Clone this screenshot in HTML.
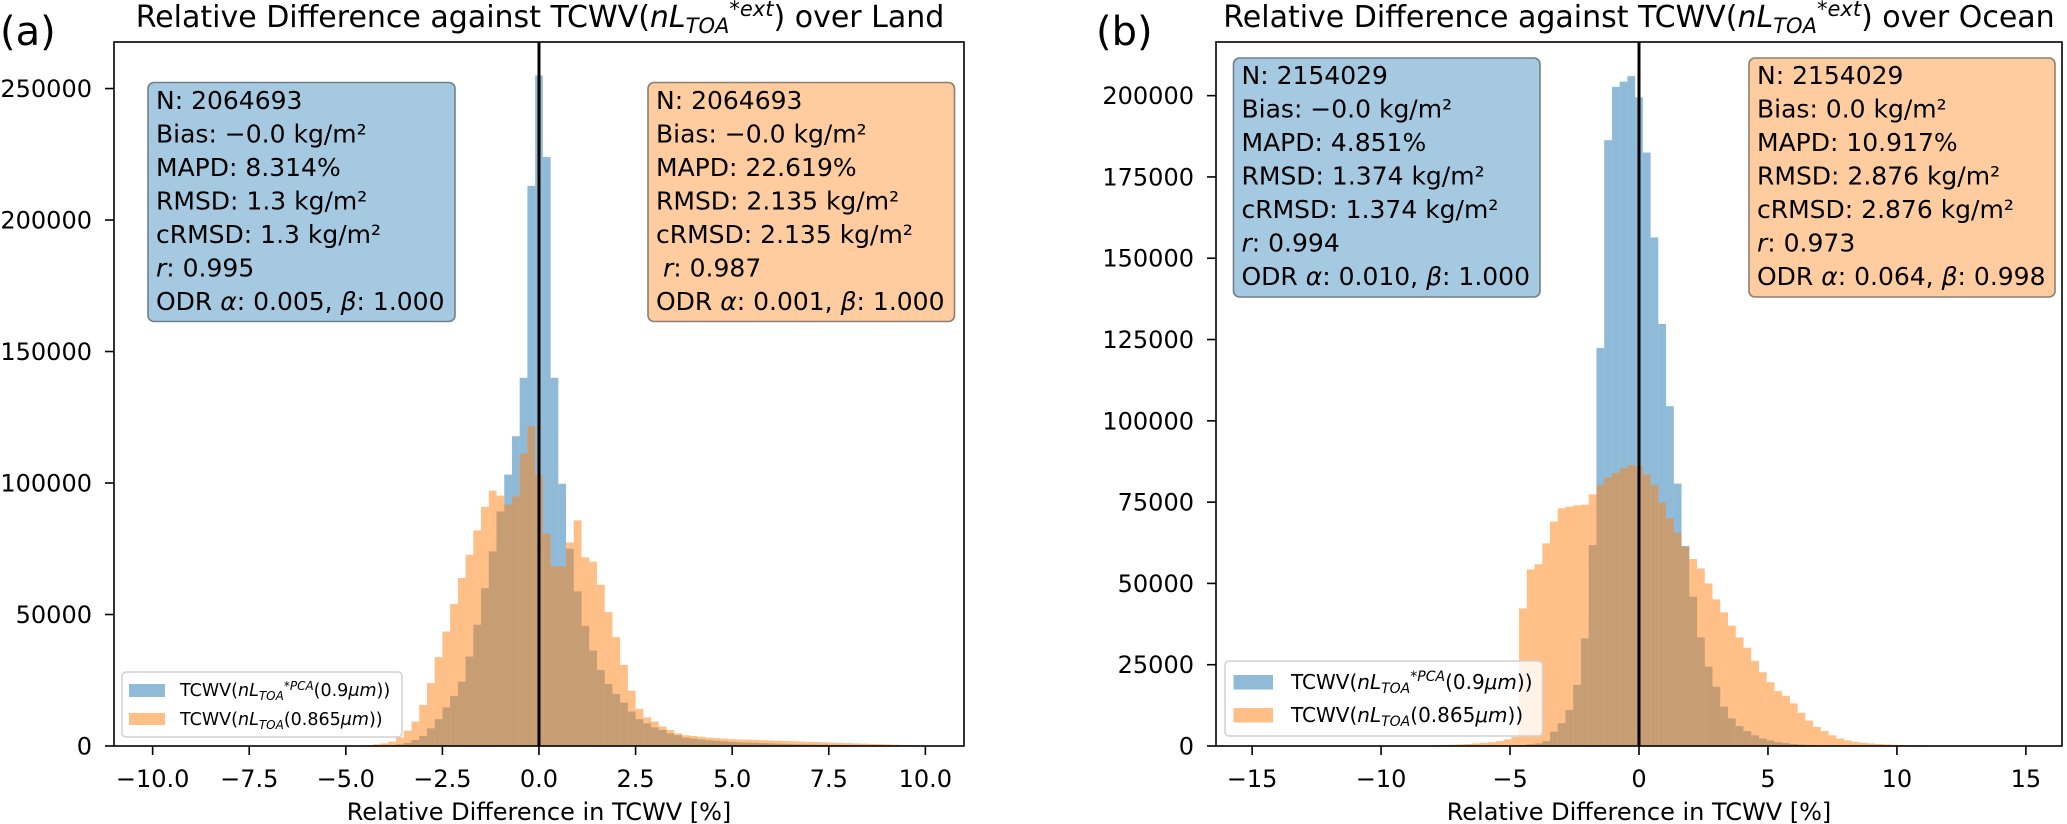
<!DOCTYPE html>
<html><head><meta charset="utf-8"><style>
html,body{margin:0;padding:0;background:#fff;}
svg{display:block;font-family:"DejaVu Sans","Liberation Sans",sans-serif;}
</style></head><body>
<svg id="fig" width="2067" height="824" viewBox="0 0 2067 824" xmlns="http://www.w3.org/2000/svg">
<rect x="0" y="0" width="2067" height="824" fill="#fff"/>
<g id="plots"></g>
</svg>
<script>
// ---- Land (a) data: bin width 0.2, first bin center index -23 ----
const landBinWidth = 0.2;
const landStartIndex = -23;
const landBlue = [0.05,0.1,0.15,0.2,0.3,0.6,1.2,2.3,3.8,6.7,10.2,14.7,19,24.5,34,46.1,60,74,89.2,103.2,117.8,140,213,255,224,140,99.7,75,58.8,45.7,36.3,28.9,23.6,19.8,16.5,13.1,10.2,8.6,7.1,6.1,4.8,4.1,3.2,2.8,2.5,2.2,2.0,1.8,1.6,1.4,1.3,1.2,1.1,1.0,0.9,0.8,0.7,0.6,0.6,0.5,0.5,0.4,0.4,0.3,0.3,0.3,0.2,0.2,0.2,0.2,0.1,0.1,0.1,0.1];
const landOrange = [0.1,0.3,0.6,1.0,1.7,3.3,5.8,9.3,15.6,23.9,33.8,43.5,54,63.9,72.7,82,90.9,97.1,95.2,91.8,94.9,111.2,121.6,103,80.7,68.3,68.3,77.4,85.8,71.7,70.1,61.3,50.9,41.4,30.8,21.1,14.1,10.9,9.3,7.4,6.1,4.8,4.1,3.8,3.5,3.2,3.0,2.8,2.6,2.5,2.4,2.3,2.2,2.1,2.0,1.9,1.8,1.7,1.6,1.5,1.4,1.3,1.2,1.1,1.0,0.9,0.8,0.7,0.6,0.5,0.4,0.3,0.2,0.1];
const landXTicks = [-10,-7.5,-5,-2.5,0,2.5,5,7.5,10];
const landXTickLabels = ["\u221210.0","\u22127.5","\u22125.0","\u22122.5","0.0","2.5","5.0","7.5","10.0"];
const landYTicks = [0,50000,100000,150000,200000,250000];
// ---- Ocean (b) data: bin width 0.3 ----
const oceanBinWidth = 0.3;
const oceanBlueStart = -16;
const oceanBlue = [0.2,0.3,0.5,0.8,1.5,4.4,7,11.1,18.8,33.1,61.8,122.4,186.3,202.7,204.3,206,199.5,182.5,156.4,129.8,104.5,80.7,61.5,45.9,33.4,24.4,18.2,12.1,8.5,6.1,4.6,3.3,2.3,1.7,1.2,0.9,0.6,0.4,0.3,0.2,0.1];
const oceanOrangeStart = -26;
const oceanOrange = [0.2,0.3,0.4,0.5,0.6,0.8,1.0,1.2,1.5,2.0,2.8,42.3,54.3,55.9,62.3,69,73.1,73.6,74,74.2,77.4,80.3,82.6,84,85.4,86.4,86,83.5,80.3,74.9,70,65.6,61.3,57.5,54.6,50,45.1,41.1,37,33.4,30.2,26.2,22.7,19.6,16.9,15.4,13.1,10.2,7.8,5.9,4.6,3.3,2.3,1.7,1.3,1.0,0.8,0.6,0.5,0.4,0.3,0.2,0.2,0.1];
const oceanXTicks = [-15,-10,-5,0,5,10,15];
const oceanXTickLabels = ["\u221215","\u221210","\u22125","0","5","10","15"];
const oceanYTicks = [0,25000,50000,75000,100000,125000,150000,175000,200000];

const NS = "http://www.w3.org/2000/svg";
const root = document.getElementById('plots');
function mk(tag, attrs, parent){ const e=document.createElementNS(NS,tag); for(const k in attrs) e.setAttribute(k,attrs[k]); (parent||root).appendChild(e); return e; }

function drawPanel(cfg){
  const g = mk('g',{});
  
  
  const L=cfg.left, R=cfg.right, T=42, B=746;
  const xs = v => L + (v - cfg.xmin)/(cfg.xmax-cfg.xmin)*(R-L);
  const ys = v => B - v/cfg.ymax*(B-T);
  const series = [
    {vals: cfg.blue, start: cfg.blueStart, color:'#1f77b4', name:'blue'},
    {vals: cfg.orange, start: cfg.orangeStart, color:'#ff7f0e', name:'orange'}
  ];
  series.forEach(s=>{
    const sg = mk('g',{},g);
    
    
    s.vals.forEach((v,i)=>{
      const c = (s.start+i)*cfg.bw;
      const x0 = xs(c-cfg.bw/2), x1 = xs(c+cfg.bw/2);
      const y = ys(v*1000);
      const r = mk('rect',{x:x0,y:y,width:x1-x0,height:B-y,fill:s.color,'fill-opacity':0.5},sg);
      
      
    });
  });
  const zl = mk('line',{x1:xs(0),x2:xs(0),y1:T,y2:B,stroke:'#000','stroke-width':3},g);
  
  
  const fr = mk('rect',{x:L,y:T,width:R-L,height:B-T,fill:'none',stroke:'#000','stroke-width':1.6},g);
  
  
  cfg.xticks.forEach((t,i)=>{
    const x=xs(t);
    mk('line',{x1:x,x2:x,y1:B,y2:B+9,stroke:'#000','stroke-width':1.6},g);
    const tx = mk('text',{x:x,y:787,'font-size':24,'text-anchor':'middle',fill:'#000'},g);
    tx.textContent = cfg.xlabels[i];
    
    
  });
  cfg.yticks.forEach(t=>{
    const y=ys(t);
    mk('line',{x1:L-9,x2:L,y1:y,y2:y,stroke:'#000','stroke-width':1.6},g);
    const tx = mk('text',{x:L-22,y:y+8.5,'font-size':24,'text-anchor':'end',fill:'#000'},g);
    tx.textContent = String(t);
    
    
  });
  const xl = mk('text',{x:(L+R)/2,y:820,'font-size':24,'text-anchor':'middle',fill:'#000'},g);
  xl.textContent = 'Relative Difference in TCWV [%]';
  
  
}

drawPanel({name:'land-panel',left:114,right:964,xmin:-11,xmax:11,ymax:267700,bw:landBinWidth,
  blue:landBlue,blueStart:landStartIndex,orange:landOrange,orangeStart:landStartIndex,
  xticks:landXTicks,xlabels:landXTickLabels,yticks:landYTicks});
drawPanel({name:'ocean-panel',left:1216,right:2062,xmin:-16.4,xmax:16.4,ymax:216500,bw:oceanBinWidth,
  blue:oceanBlue,blueStart:oceanBlueStart,orange:oceanOrange,orangeStart:oceanOrangeStart,
  xticks:oceanXTicks,xlabels:oceanXTickLabels,yticks:oceanYTicks});
</script>

<svg style="position:absolute;left:0;top:0" width="2067" height="824" viewBox="0 0 2067 824" xmlns="http://www.w3.org/2000/svg" font-family="DejaVu Sans, Liberation Sans, sans-serif">
<text x="0" y="45" font-size="40">(a)</text>
<text x="1096" y="45" font-size="40">(b)</text>
<text x="540" y="27" font-size="30" text-anchor="middle">Relative Difference against TCWV(<tspan font-style="italic">nL</tspan><tspan font-style="italic" font-size="21" dy="6">TOA</tspan><tspan font-style="italic" font-size="21" dy="-17">*ext</tspan><tspan dy="11">) over Land</tspan></text>
<text x="1639" y="27" font-size="30" text-anchor="middle">Relative Difference against TCWV(<tspan font-style="italic">nL</tspan><tspan font-style="italic" font-size="21" dy="6">TOA</tspan><tspan font-style="italic" font-size="21" dy="-17">*ext</tspan><tspan dy="11">) over Ocean</tspan></text>

<g font-size="25">
<rect x="148" y="82.5" width="307" height="239" rx="6" fill="#a5c9e1" stroke="#6f7f8c" stroke-width="1.6"/>
<text x="156" y="109">N: 2064693</text>
<text x="156" y="142.5">Bias: −0.0 kg/m²</text>
<text x="156" y="176">MAPD: 8.314%</text>
<text x="156" y="209.5">RMSD: 1.3 kg/m²</text>
<text x="156" y="243">cRMSD: 1.3 kg/m²</text>
<text x="156" y="276.5"><tspan font-style="italic">r</tspan>: 0.995</text>
<text x="156" y="310">ODR <tspan font-style="italic">α</tspan>: 0.005, <tspan font-style="italic">β</tspan>: 1.000</text>
</g>
<g font-size="25">
<rect x="648" y="82.5" width="306.5" height="239" rx="6" fill="#ffcc9f" stroke="#8c7f70" stroke-width="1.6"/>
<text x="656" y="109">N: 2064693</text>
<text x="656" y="142.5">Bias: −0.0 kg/m²</text>
<text x="656" y="176">MAPD: 22.619%</text>
<text x="656" y="209.5">RMSD: 2.135 kg/m²</text>
<text x="656" y="243">cRMSD: 2.135 kg/m²</text>
<text x="656" y="276.5"> <tspan x="663" font-style="italic">r</tspan>: 0.987</text>
<text x="656" y="310">ODR <tspan font-style="italic">α</tspan>: 0.001, <tspan font-style="italic">β</tspan>: 1.000</text>
</g>
<g font-size="25">
<rect x="1233.5" y="58" width="306.5" height="239" rx="6" fill="#a5c9e1" stroke="#6f7f8c" stroke-width="1.6"/>
<text x="1241.5" y="84">N: 2154029</text>
<text x="1241.5" y="117.5">Bias: −0.0 kg/m²</text>
<text x="1241.5" y="151">MAPD: 4.851%</text>
<text x="1241.5" y="184.5">RMSD: 1.374 kg/m²</text>
<text x="1241.5" y="218">cRMSD: 1.374 kg/m²</text>
<text x="1241.5" y="251.5"><tspan font-style="italic">r</tspan>: 0.994</text>
<text x="1241.5" y="285">ODR <tspan font-style="italic">α</tspan>: 0.010, <tspan font-style="italic">β</tspan>: 1.000</text>
</g>
<g font-size="25">
<rect x="1749" y="58" width="306" height="239" rx="6" fill="#ffcc9f" stroke="#8c7f70" stroke-width="1.6"/>
<text x="1757" y="84">N: 2154029</text>
<text x="1757" y="117.5">Bias: 0.0 kg/m²</text>
<text x="1757" y="151">MAPD: 10.917%</text>
<text x="1757" y="184.5">RMSD: 2.876 kg/m²</text>
<text x="1757" y="218">cRMSD: 2.876 kg/m²</text>
<text x="1757" y="251.5"><tspan font-style="italic">r</tspan>: 0.973</text>
<text x="1757" y="285">ODR <tspan font-style="italic">α</tspan>: 0.064, <tspan font-style="italic">β</tspan>: 0.998</text>
</g>

<g>
<rect x="122" y="672" width="280" height="65" rx="4" fill="#fff" fill-opacity="0.8" stroke="#d0d0d0" stroke-width="1.5"/>
<rect x="129" y="684" width="36" height="13" fill="#1f77b4" fill-opacity="0.5"/>
<rect x="129" y="713" width="36" height="12" fill="#ff7f0e" fill-opacity="0.5"/>
<text x="180" y="696" font-size="17.5">TCWV(<tspan font-style="italic">nL</tspan><tspan font-style="italic" font-size="12" dy="4">TOA</tspan><tspan font-style="italic" font-size="12" dy="-10">*PCA</tspan><tspan dy="6">(0.9</tspan><tspan font-style="italic">μm</tspan>))</text>
<text x="180" y="725" font-size="17.5">TCWV(<tspan font-style="italic">nL</tspan><tspan font-style="italic" font-size="12" dy="4">TOA</tspan><tspan dy="-4">(0.865</tspan><tspan font-style="italic">μm</tspan>))</text>
</g>
<g>
<rect x="1225" y="661" width="317.5" height="75" rx="4" fill="#fff" fill-opacity="0.8" stroke="#d0d0d0" stroke-width="1.5"/>
<rect x="1233.5" y="675" width="39.5" height="14.5" fill="#1f77b4" fill-opacity="0.5"/>
<rect x="1233.5" y="708" width="39.5" height="14.5" fill="#ff7f0e" fill-opacity="0.5"/>
<text x="1291" y="689" font-size="20">TCWV(<tspan font-style="italic">nL</tspan><tspan font-style="italic" font-size="14" dy="4">TOA</tspan><tspan font-style="italic" font-size="14" dy="-12">*PCA</tspan><tspan dy="8">(0.9</tspan><tspan font-style="italic">μm</tspan>))</text>
<text x="1291" y="722" font-size="20">TCWV(<tspan font-style="italic">nL</tspan><tspan font-style="italic" font-size="14" dy="4">TOA</tspan><tspan dy="-4">(0.865</tspan><tspan font-style="italic">μm</tspan>))</text>
</g>
</svg>
</body></html>
